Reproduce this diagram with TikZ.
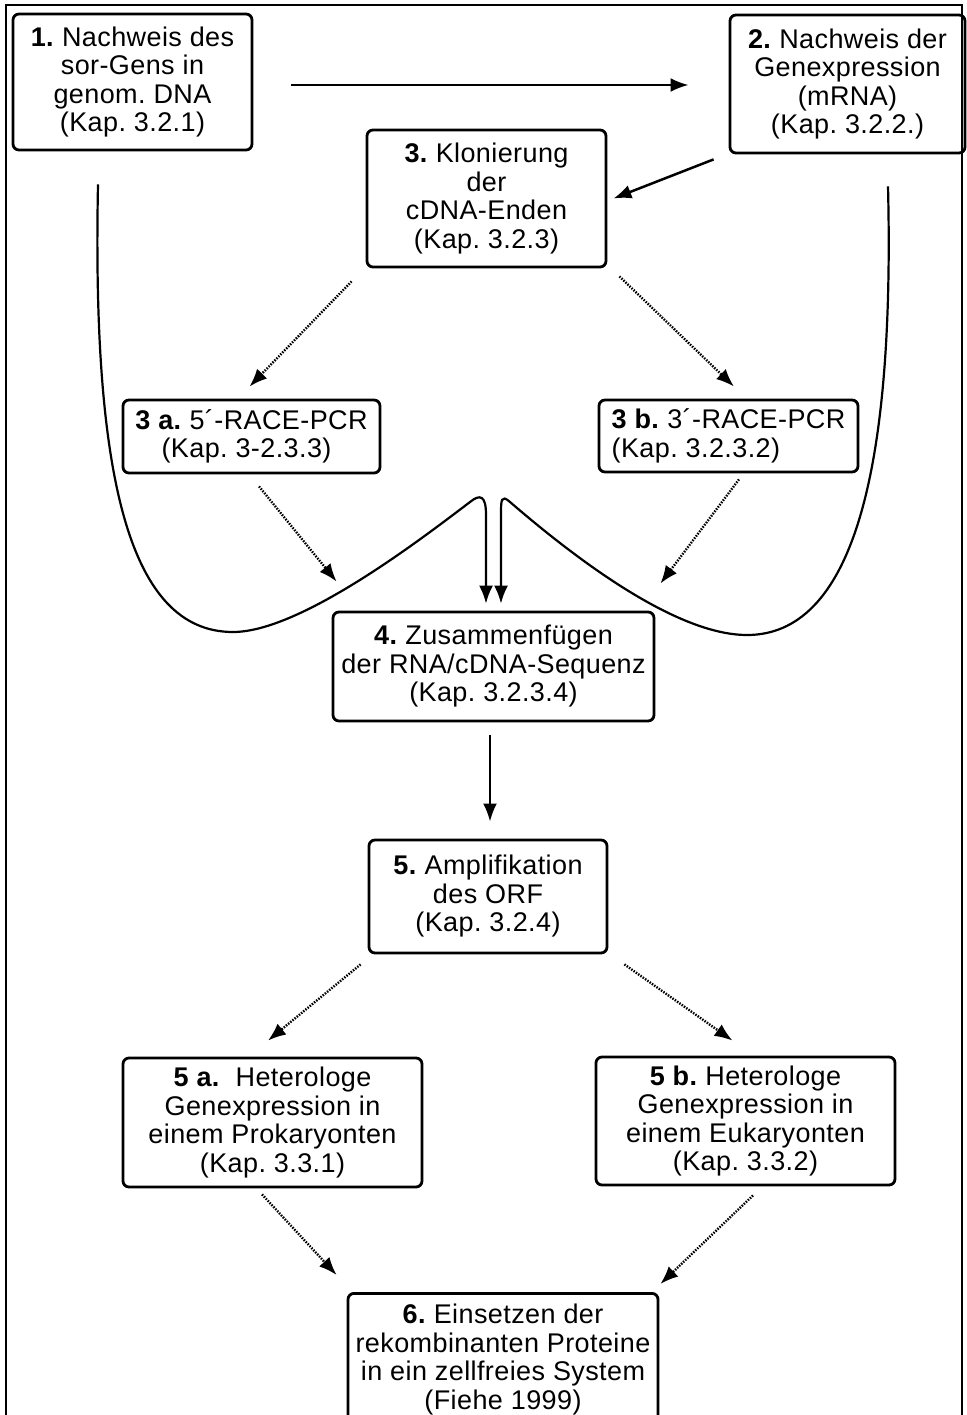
\documentclass[tikz,border=0pt]{standalone}
\usepackage{fontspec}
\setmainfont[LetterSpace=1.5]{Liberation Sans}
\usetikzlibrary{arrows.meta,calc}
\begin{document}
\begin{tikzpicture}[x=1pt,y=-1pt,
  procbox/.style={draw, line width=2.8pt, rounded corners=6pt, inner sep=0pt,
    align=center, font=\fontsize{27}{28.5}\selectfont\frenchspacing},
  solidarr/.style={line width=2.5pt, -{Latex[length=18pt,width=14pt]}},
  dotarr/.style={line width=2.4pt, dash pattern=on 1.5pt off 1.3pt, -{Latex[length=18pt,width=14pt]}},
  bigcurve/.style={line width=2.2pt, -{Latex[length=18pt,width=14pt]}}
]
\useasboundingbox (0,0) rectangle (966,1415);
\draw[line width=1.3pt] (6,1415) -- (6,5) -- (962,5) -- (962,1415);

\node[procbox, minimum width=239pt, minimum height=136pt] (b1) at (132.5,82)
  {\textbf{1.} Nachweis des\\sor-Gens in\\genom. DNA\\(Kap. 3.2.1)};
\node[procbox, minimum width=235pt, minimum height=138pt] (b2) at (847.5,84)
  {\textbf{2.} Nachweis der\\Genexpression\\(mRNA)\\(Kap. 3.2.2.)};
\node[procbox, minimum width=239pt, minimum height=137pt] (b3) at (486.5,198.5)
  {\textbf{3.} Klonierung\\der\\cDNA-Enden\\(Kap. 3.2.3)};
\node[procbox, minimum width=257pt, minimum height=73pt] (b3a) at (251.5,436.5)
  {\textbf{3 a.} 5´-RACE-PCR\\(Kap. 3-2.3.3)\hspace*{10pt}};
\node[procbox, minimum width=259pt, minimum height=72pt, align=left] (b3b) at (728.5,436)
  {\textbf{3 b.} 3´-RACE-PCR\\(Kap. 3.2.3.2)};
\node[procbox, minimum width=321pt, minimum height=109pt] (b4) at (493.5,666.5)
  {\textbf{4.} Zusammenfügen\\der RNA/cDNA-Sequenz\\(Kap. 3.2.3.4)};
\node[procbox, minimum width=238pt, minimum height=113pt] (b5) at (488,896.5)
  {\textbf{5.} Amplifikation\\des ORF\\(Kap. 3.2.4)};
\node[procbox, minimum width=299pt, minimum height=129pt] (b5a) at (272.5,1122.5)
  {\textbf{5 a.}\ \ Heterologe\\Genexpression in\\einem Prokaryonten\\(Kap. 3.3.1)};
\node[procbox, minimum width=299pt, minimum height=128pt] (b5b) at (745.5,1121)
  {\textbf{5 b.} Heterologe\\Genexpression in\\einem Eukaryonten\\(Kap. 3.3.2)};
\node[procbox, minimum width=310pt, minimum height=132pt, anchor=north] (b6) at (503,1292)
  {\textbf{6.} Einsetzen der\\rekombinanten Proteine\\in ein zellfreies System\\(Fiehe 1999)};

% solid arrows
\draw[solidarr] ([shift={(38,3)}]b1.east) -- ([shift={(-40,1)}]b2.west);
\draw[solidarr] ([shift={(-15,5)}]b2.south west) -- ([shift={(6,0)}]b3.east);
\draw[solidarr] ([shift={(-3.5,13)}]b4.south) -- ([shift={(2,-17)}]b5.north);

% dotted arrows
\draw[dotarr] ([shift={(-14,13)}]b3.south west) -- ([shift={(-2,-12)}]b3a.north);
\draw[dotarr] ([shift={(12,8)}]b3.south east) -- ([shift={(5.5,-12)}]b3b.north);
\draw[dotarr] ([shift={(7.5,12)}]b3a.south) -- ([shift={(5,-29)}]b4.north west);
\draw[dotarr] ([shift={(10.5,6)}]b3b.south) -- ([shift={(5,-27)}]b4.north east);
\draw[dotarr] ([shift={(-7,10)}]b5.south west) -- ([shift={(-4.5,-16)}]b5a.north);
\draw[dotarr] ([shift={(16,10)}]b5.south east) -- ([shift={(-13,-15)}]b5b.north);
\draw[dotarr] ([shift={(-10.5,6)}]b5a.south) -- ([shift={(-10,-17)}]b6.north west);
\draw[dotarr] ([shift={(7.5,9)}]b5b.south) -- ([shift={(1,-8)}]b6.north east);

% big curves
\draw[bigcurve] ([shift={(-34.5,33)}]b1.south)
  .. controls (92,480) and (130,632) .. (233,632)
  .. controls (300,632) and (420,540) .. (470,502)
  .. controls (480,494) and (486,495) .. (486,515)
  -- ([shift={(-7.5,-7)}]b4.north);
\draw[bigcurve] ([shift={(40.5,32)}]b2.south)
  .. controls (895,480) and (850,635) .. (747,635)
  .. controls (670,635) and (560,545) .. (510,502)
  .. controls (501,494) and (501,500) .. (501,515)
  -- ([shift={(7.5,-7)}]b4.north);
\end{tikzpicture}
\end{document}
